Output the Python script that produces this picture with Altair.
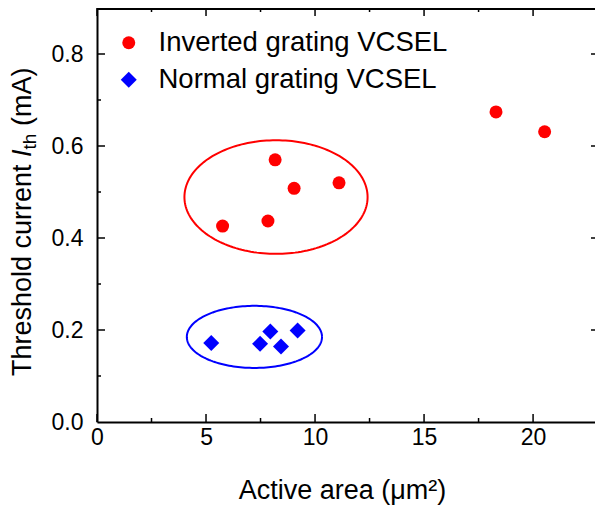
import altair as alt
import numpy as np
import pandas as pd

# ---------------- data ----------------
series = ["Inverted grating VCSEL", "Normal grating VCSEL"]
inv_area = [5.76, 7.84, 8.17, 9.04, 11.10, 18.30, 20.53]
inv_ith = [0.426, 0.437, 0.570, 0.508, 0.520, 0.674, 0.631]
norm_area = [5.24, 7.48, 7.95, 8.44, 9.20]
norm_ith = [0.172, 0.170, 0.197, 0.164, 0.199]

x_major = [0, 5, 10, 15, 20]
x_minor = [2.5, 7.5, 12.5, 17.5]
y_major = [0.0, 0.2, 0.4, 0.6, 0.8]
y_minor = [0.1, 0.3, 0.5, 0.7]

# annotation ellipses (centre / radii in data units)
ell_cx = [8.21, 7.22]
ell_cy = [0.489, 0.185]
ell_rx = [4.20, 3.10]
ell_ry = [0.1235, 0.0675]
ell_col = ["#ff0000", "#0000ff"]

colors = ["#ff0000", "#0000ff"]
shapes = ["circle", "diamond"]
sizes = [169, 256]

W, H = 498, 414
FONT = "Liberation Sans"

pts = pd.DataFrame({
    "area": inv_area + norm_area,
    "ith": inv_ith + norm_ith,
    "series": [series[0]] * len(inv_area) + [series[1]] * len(norm_area),
})

xs = alt.Scale(domain=[0, 22.84], nice=False, zero=False)
ys = alt.Scale(domain=[0, 0.9], nice=False, zero=False)

x_axis = alt.Axis(values=x_major, format="d", ticks=False, grid=False,
                  domainColor="black", domainWidth=2,
                  labelFont=FONT, labelFontSize=23, labelColor="black",
                  labelPadding=4, labelFlush=False,
                  title="Active area (\u03bcm\u00b2)", titleFont=FONT,
                  titleFontSize=27, titleFontWeight="normal", titleColor="black",
                  titleX=245, titleY=76, titleBaseline="alphabetic")
y_axis = alt.Axis(values=y_major, format=".1f", ticks=False, grid=False,
                  domainColor="black", domainWidth=2,
                  labelFont=FONT, labelFontSize=23, labelColor="black",
                  labelPadding=14, labelFlush=False, title=None)

points = alt.Chart(pts).mark_point(filled=True, opacity=1, strokeWidth=0).encode(
    x=alt.X("area:Q", scale=xs, axis=x_axis),
    y=alt.Y("ith:Q", scale=ys, axis=y_axis),
    color=alt.Color("series:N", scale=alt.Scale(domain=series, range=colors),
                    legend=alt.Legend(title=None, orient="none", legendX=18, legendY=21,
                                      labelFont=FONT, labelFontSize=27.5, labelColor="black",
                                      labelOffset=16, rowPadding=8, padding=0,
                                      labelLimit=500, symbolStrokeWidth=0,
                                      symbolOpacity=1)),
    shape=alt.Shape("series:N", scale=alt.Scale(domain=series, range=shapes)),
    size=alt.Size("series:N", scale=alt.Scale(domain=series, range=sizes)),
)

# ellipses
layers = []
t = np.linspace(0, 2 * np.pi, 181)
for cx, cy, rx, ry, col in zip(ell_cx, ell_cy, ell_rx, ell_ry, ell_col):
    edf = pd.DataFrame({"x": cx + rx * np.cos(t), "y": cy + ry * np.sin(t),
                        "i": np.arange(len(t))})
    layers.append(alt.Chart(edf).mark_line(color=col, strokeWidth=2).encode(
        x=alt.X("x:Q", scale=xs, axis=x_axis),
        y=alt.Y("y:Q", scale=ys, axis=y_axis),
        order="i:Q"))

# inward tick marks and top frame
def xticks(vals, y0, y1):
    return alt.Chart(pd.DataFrame({"v": vals})).mark_rule(color="black", strokeWidth=1.5).encode(
        x=alt.X("v:Q", scale=xs, axis=x_axis), y=alt.value(y0), y2=alt.value(y1))

def yticks(vals, x0, x1):
    return alt.Chart(pd.DataFrame({"v": vals})).mark_rule(color="black", strokeWidth=1.5).encode(
        y=alt.Y("v:Q", scale=ys, axis=y_axis), x=alt.value(x0), x2=alt.value(x1))

ticks = [
    xticks(x_major, H, H - 8), xticks(x_minor, H, H - 4),
    xticks(x_major, 0, 8), xticks(x_minor, 0, 4),
    yticks(y_major[1:], 0, 8), yticks(y_minor, 0, 4),
    yticks(y_major[1:], W - 4, W),
]
top_line = alt.Chart(pd.DataFrame({"a": [0]})).mark_rule(color="black", strokeWidth=2).encode(
    x=alt.value(0), x2=alt.value(W), y=alt.value(1))

# y-axis title made from pieces (italic I, subscript th)
ytitle_parts = ["Threshold current", "I", "th", "(mA)"]
def ypiece(txt, ypos, size, style="normal", dx=0):
    return alt.Chart(pd.DataFrame({"t": [txt]})).mark_text(
        angle=270, align="left", baseline="alphabetic", font=FONT,
        fontSize=size, fontStyle=style, color="black").encode(
        text="t:N", x=alt.value(-66 + dx), y=alt.value(ypos))

y0 = 368
fs = 27
w1 = 7.836 * fs
sp = 0.278 * fs
wI = 0.278 * fs
wth = 0.834 * 19
title_layers = [
    ypiece(ytitle_parts[0], y0, fs),
    ypiece(ytitle_parts[1], y0 - w1 - sp, fs, "italic"),
    ypiece(ytitle_parts[2], y0 - w1 - sp - wI, 19, dx=5),
    ypiece(ytitle_parts[3], y0 - w1 - sp - wI - wth - sp, fs),
]

chart = alt.layer(*layers, *ticks, top_line, points, *title_layers).properties(
    width=W, height=H,
    autosize=alt.AutoSizeParams(type="none"),
    padding={"left": 89, "top": 0, "right": 0, "bottom": 85},
).configure_view(stroke="transparent")

chart.save("out.html", embed_options={"renderer": "svg", "actions": False})
